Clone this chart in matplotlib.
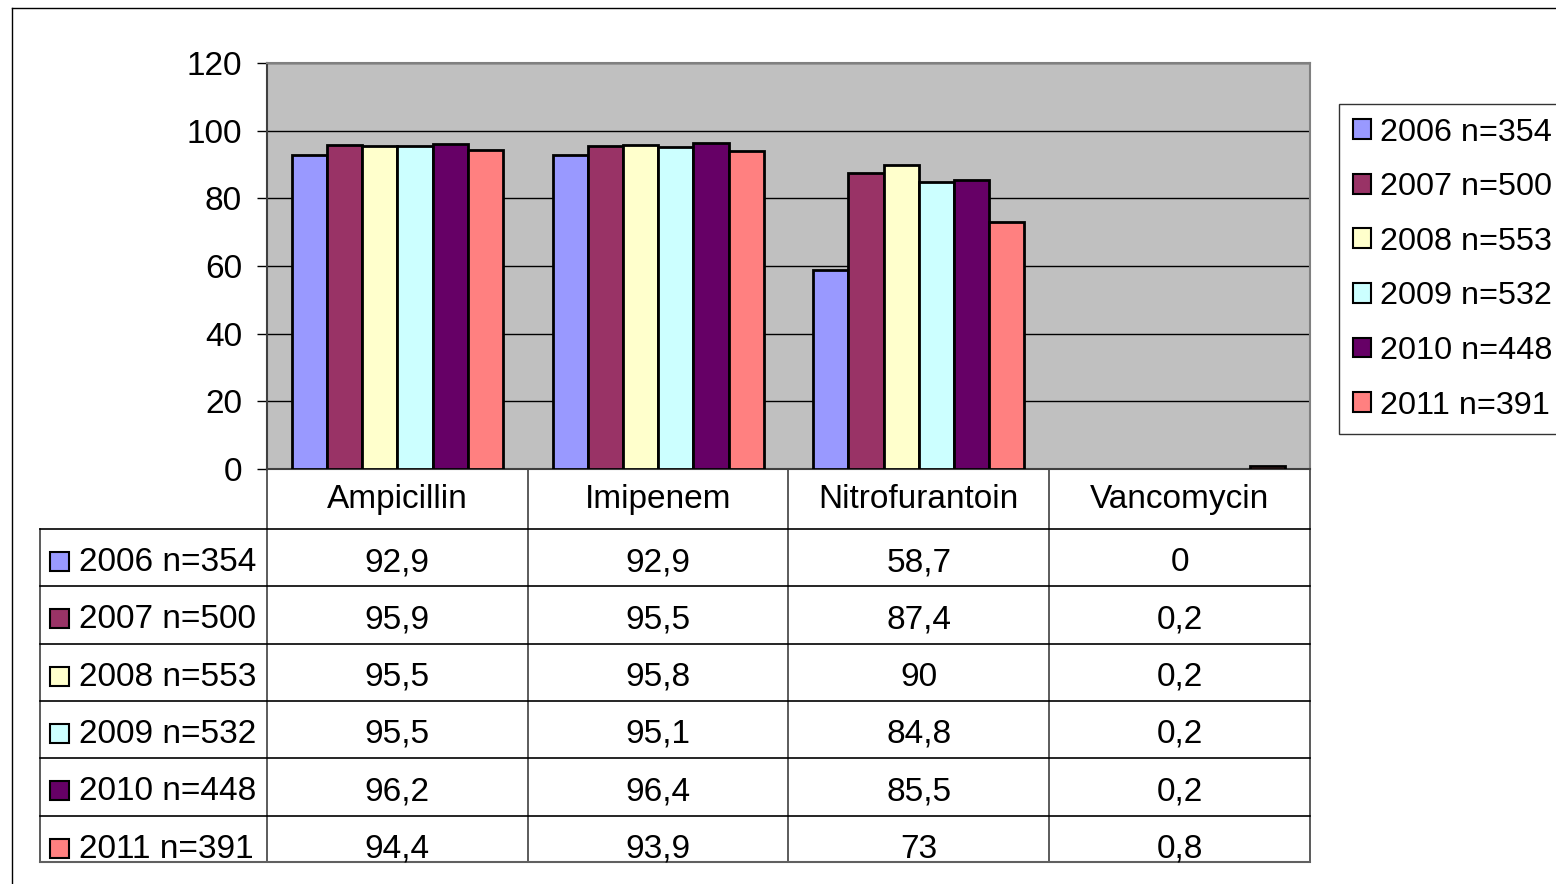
import matplotlib
matplotlib.use('Agg')
import matplotlib.pyplot as plt
import numpy as np
from matplotlib.patches import Rectangle

plt.rcParams['font.family'] = ['Liberation Sans', 'DejaVu Sans']

drugs = ['Ampicillin', 'Imipenem', 'Nitrofurantoin', 'Vancomycin']
years = ['2006 n=354', '2007 n=500', '2008 n=553', '2009 n=532', '2010 n=448', '2011 n=391']
colors = ['#9999FF', '#993366', '#FFFFCC', '#CCFFFF', '#660066', '#FF8080']

v2006 = [92.9, 92.9, 58.7, 0]
v2007 = [95.9, 95.5, 87.4, 0.2]
v2008 = [95.5, 95.8, 90, 0.2]
v2009 = [95.5, 95.1, 84.8, 0.2]
v2010 = [96.2, 96.4, 85.5, 0.2]
v2011 = [94.4, 93.9, 73, 0.8]
values = [v2006, v2007, v2008, v2009, v2010, v2011]

W, H = 1556, 884
fig = plt.figure(figsize=(W / 100, H / 100), dpi=100)

# overlay in pixel coords for border + data table
ov = fig.add_axes([0, 0, 1, 1])
ov.set_xlim(0, W)
ov.set_ylim(H, 0)
ov.axis('off')

px_l, px_r, px_t, px_b = 267, 1310, 63, 469
ax = fig.add_axes([px_l / W, 1 - px_b / H, (px_r - px_l) / W, (px_b - px_t) / H])
ax.set_facecolor('#C0C0C0')
x = np.arange(len(drugs))
bw = 0.135
bars = []
for j, vals in enumerate(values):
    b = ax.bar(x + (j - 2.5) * bw, vals, bw, color=colors[j], edgecolor='black',
               linewidth=2, label=years[j], zorder=3)
    for p in b:
        if p.get_height() < 0.5:  # excel doesn't show these slivers
            p.set_visible(False)
    bars.append(b)
ax.set_xlim(-0.5, len(drugs) - 0.5)
ax.set_ylim(0, 120)
ax.set_yticks(np.arange(0, 121, 20))
ax.set_xticks([])
ax.yaxis.grid(True, color='black', linewidth=1)
ax.set_axisbelow(True)
ax.tick_params(axis='y', labelsize=24, length=7, width=1, pad=11, colors='black')
for s in ax.spines.values():
    s.set_color('#808080')
    s.set_linewidth(1.5)
ax.spines['left'].set_color('#404040')
ax.spines['bottom'].set_color('#404040')

# outer chart border (cut off at right / bottom)
ov.plot([12, 12], [8, H], color='black', lw=1)
ov.plot([12, W], [8, 8], color='black', lw=1)

# data table
col_w = (px_r - px_l) / len(drugs)
col_edges = px_l + np.arange(len(drugs) + 1) * col_w
row_h = 57.3
row_top = 529
tab_bot = 862
for cx in col_edges:
    ov.plot([cx, cx], [px_b, tab_bot], color='#404040', lw=1.2)
ov.plot([40, 40], [row_top, tab_bot], color='#404040', lw=1.2)
for i in range(len(years)):
    y = row_top + i * row_h
    ov.plot([40, px_r], [y, y], color='black', lw=1.2)
ov.plot([40, px_r], [tab_bot, tab_bot], color='#606060', lw=1.5)

for k, d in enumerate(drugs):
    ov.text((col_edges[k] + col_edges[k + 1]) / 2, 508, d, fontsize=24,
            ha='center', va='baseline')

for i, vals in enumerate(values):
    base = 571 + i * row_h
    ov.add_patch(Rectangle((50, base - 19), 19, 19, facecolor=colors[i],
                           edgecolor='black', lw=1.5))
    ov.text(79, base, years[i], fontsize=24, ha='left', va='baseline')
    for k, v in enumerate(vals):
        ov.text((col_edges[k] + col_edges[k + 1]) / 2, base, ('%g' % v).replace('.', ','),
                fontsize=24, ha='center', va='baseline')

leg = fig.legend(handles=bars, labels=years, loc='upper left',
                 bbox_to_anchor=(1339 / W, 1 - 104 / H), fontsize=23.3,
                 frameon=True, fancybox=False, edgecolor='black',
                 handlelength=0.57, handleheight=0.57, handletextpad=0.28,
                 labelspacing=0.76, borderpad=0.42, borderaxespad=0)
leg.get_frame().set_linewidth(1)
for p in leg.get_patches():
    p.set_linewidth(1.5)

fig.savefig('out.png', dpi=100)
